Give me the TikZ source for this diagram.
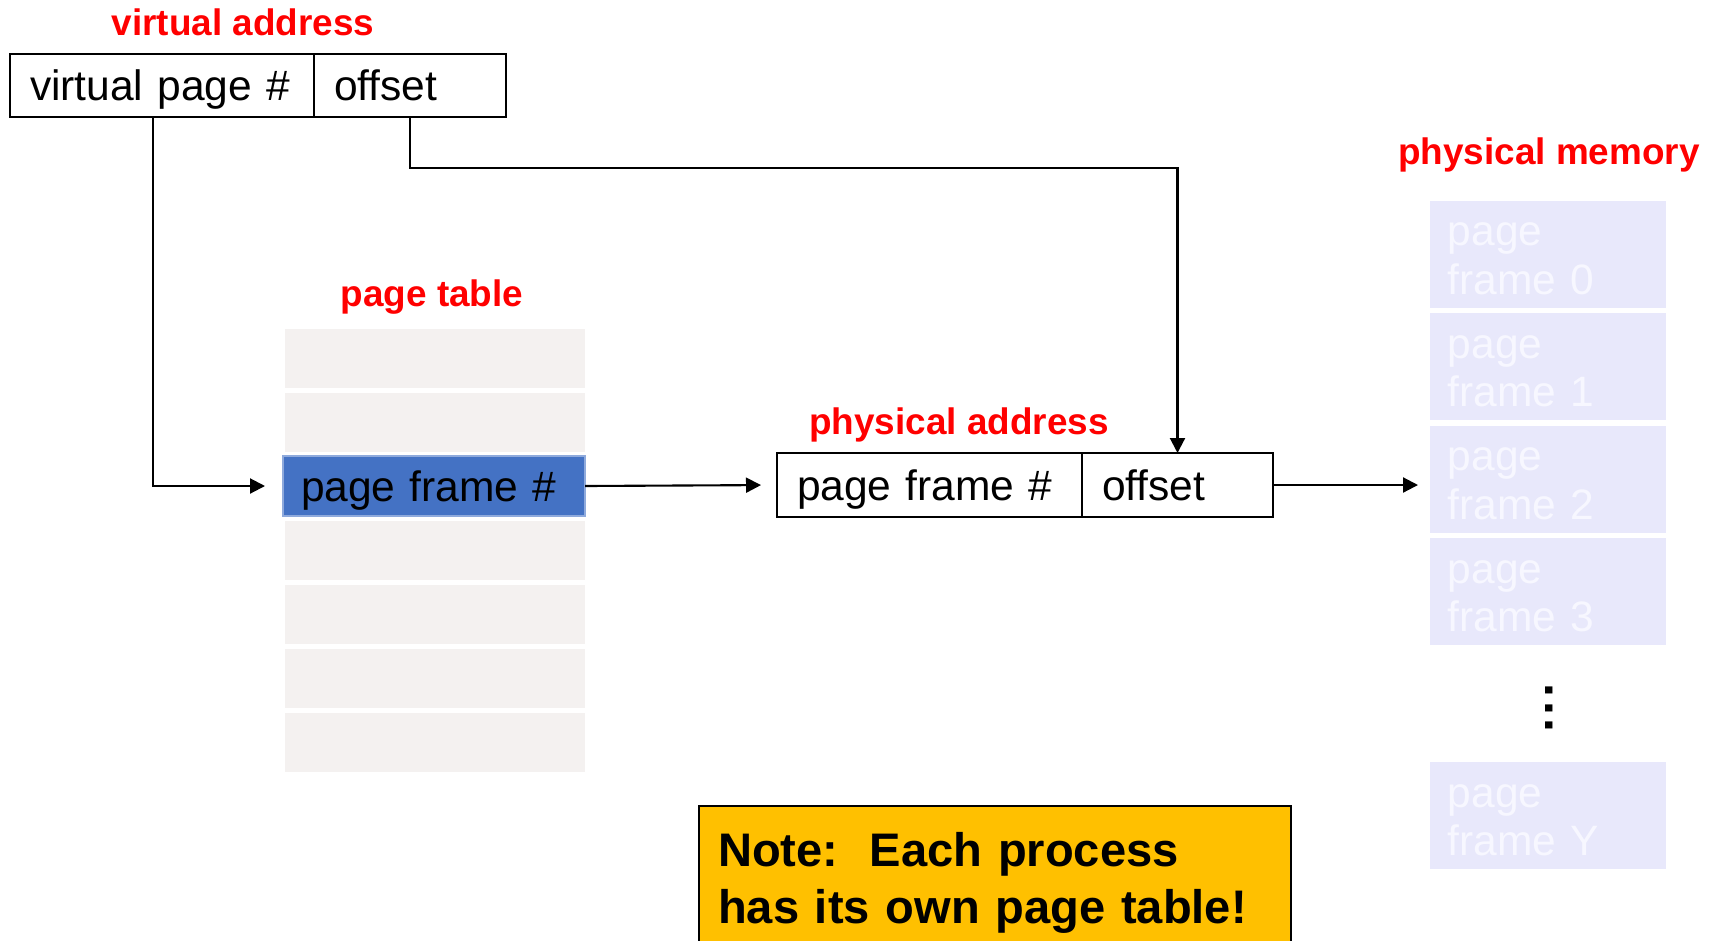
\documentclass[tikz,border=0pt]{standalone}
\usepackage{fontspec}
\setmainfont{Liberation Sans}
\usetikzlibrary{arrows.meta,positioning}

\definecolor{lblred}{HTML}{FF0000}
\definecolor{rowgray}{HTML}{F4F1F0}
\definecolor{pteblue}{HTML}{4472C4}
\definecolor{pteedge}{HTML}{8FAADC}
\definecolor{memfill}{HTML}{E8E8FB}
\definecolor{memtext}{HTML}{F7F7FF}
\definecolor{notegold}{HTML}{FFC000}

\begin{document}
\begin{tikzpicture}[x=0.1mm, y=-0.1mm,
    lbl/.style={text=lblred, font=\bfseries\fontsize{10.5}{12.6}\selectfont, inner sep=0, anchor=base},
    cell/.style={draw, line width=0.65pt, outer sep=0pt, anchor=north west, inner xsep=2mm, inner ysep=0,
      align=left, text height=3mm, text depth=0pt, minimum height=6.3mm, font=\fontsize{12.1}{14.5}\selectfont},
    ptrow/.style={fill=rowgray, minimum width=30mm, minimum height=5.9mm, anchor=north west, inner sep=0},
    memframe/.style={fill=memfill, text=memtext, anchor=north west, inner xsep=1.8mm, inner ysep=0,
      minimum height=10.7mm, text width=20mm, align=left, font=\fontsize{12.1}{13.66}\selectfont},
    link/.style={line width=0.6pt, -{Triangle[length=1.5mm,width=1.5mm]}}
  ]
  \useasboundingbox (0,0) rectangle (1717,940);
  \clip (0,0) rectangle (1717,940);

  % virtual address
  \node[lbl] (valbl) at (243,35) {virtual address};
  \node[cell, text width=26.4mm] (vpn) at (10,54) {virtual page \#};
  \node[cell, text width=15.2mm, right=0pt of vpn] (voff) {offset};

  % page table
  \node[lbl] (ptlbl) at (432,306) {page table};
  \foreach \i in {0,...,6}
    \node[ptrow] (ptrow\i) at (284,328+64*\i) {};
  \node[cell, draw=pteedge, line width=0.4pt, fill=pteblue, inner xsep=1.8mm, text width=26.6mm,
    minimum height=6mm] (pfe) at (283,456) {page frame \#};

  % physical address
  \node[lbl] (palbl) at (959,434) {physical address};
  \node[cell, text width=26.5mm, minimum height=6.4mm] (pfn) at (777,453) {page frame \#};
  \node[cell, text width=15.1mm, minimum height=6.4mm, right=0pt of pfn] (poff) {offset};

  % physical memory
  \node[lbl] (pmlbl) at (1549,164) {physical memory};
  \foreach \n/\y in {0/200,1/312.5,2/425,3/537.5,Y/761}
    \node[memframe] (mf\n) at (1429,\y) {\rule{0pt}{3.2mm}page\\frame \n};
  \node[font=\bfseries\fontsize{14.2}{17}\selectfont, rotate=-90, inner sep=0] (dots) at (1549,708)
    {.\kern1.15pt.\kern1.15pt.};

  % note
  \node[draw, line width=0.65pt, fill=notegold, anchor=north west, inner xsep=1.9mm, inner ysep=2.6mm,
    text width=55.4mm, align=left, font=\bfseries\fontsize{13.4}{16.2}\selectfont] (note) at (698,805)
    {Note:\ \ Each process\\has its own page table!};

  % connectors
  \draw[link] ([xshift=14.3mm]vpn.south west) |- ([xshift=-1.8mm]pfe.west);
  \draw[link] (voff.south) -- ++(0,51) -| (poff.north);
  \draw[link, shorten >=1.6mm] (pfe.east) -- (pfn.west);
  \draw[link, shorten >=1.1mm] (poff.east) -- (poff.east -| mf2.west);
\end{tikzpicture}
\end{document}
